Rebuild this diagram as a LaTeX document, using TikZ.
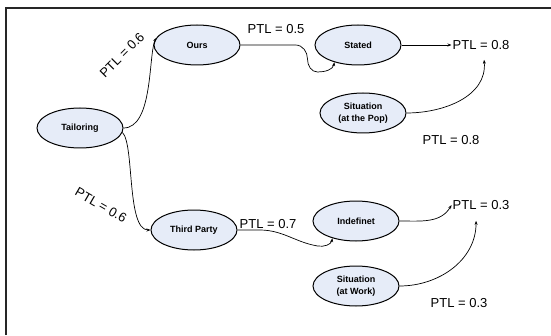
\documentclass[tikz,border=0pt]{standalone}
\usepackage{fontspec}
\setmainfont{Liberation Sans}
\usetikzlibrary{shapes.geometric,arrows.meta,positioning}
\definecolor{ovalfill}{RGB}{230,236,248}
\tikzset{
  oval/.style={
    ellipse, draw=black, line width=1pt, fill=ovalfill,
    minimum width=86pt, minimum height=40pt, inner sep=0pt,
    align=center, font=\fontsize{9}{11.5}\selectfont\bfseries
  },
  ptl/.style={inner sep=1pt, font=\fontsize{13}{15}\selectfont},
  arrow/.style={-{Stealth[length=4pt,width=3pt]}, line width=0.7pt, black},
  frame/.style={line width=1.6pt, black!85}
}

\begin{document}
\begin{tikzpicture}[x=1pt, y=1pt, node distance=20pt]
  \useasboundingbox (0,0) rectangle (551,335);
  \draw[frame] (6,0) -- (6,327) -- (551,327);

  \node[oval] (tail) at (80,207) {Tailoring};
  \node[oval] (ours) at (197,290) {Ours};
  \node[oval, right=74pt of ours] (stated) {Stated};
  \node[oval, below=27pt of stated, xshift=5pt]
    (sitpop) {Situation\\(at the Pop)};
  \node[oval] (third) at (194,105) {Third Party};
  \node[oval, right=75pt of third, yshift=9pt] (indef) {Indefinet};
  \node[oval, below=24pt of indef]
    (sitwork) {Situation\\(at Work)};

  \node[ptl, right=50pt of stated] (p08a) {PTL = 0.8};
  \node[ptl] (p08b) at (451,195) {PTL = 0.8};
  \node[ptl, right=52pt of indef, yshift=16pt] (p03a) {PTL = 0.3};
  \node[ptl] (p03b) at (459,32) {PTL = 0.3};
  \node[ptl] (p05) at (276,306) {PTL = 0.5};
  \node[ptl, anchor=base west] (p07)
    at ([xshift=1pt,yshift=2pt]third.east) {PTL = 0.7};
  \node[ptl, rotate=45] (p06a) at (122,280) {PTL = 0.6};
  \node[ptl, rotate=-30] (p06b) at (101,130) {PTL = 0.6};

  \draw[arrow] (tail.east) .. controls +(30,0) and +(-8,-16) .. (ours.170);
  \draw[arrow] (tail.-6) .. controls +(12,-12) and +(-24,0) .. (third.west);
  \draw[arrow] (ours.east) -- ++(55,0) to[out=0,in=90] ++(12,-14)
    to[out=-90,in=180] ++(10,-13) to[out=0,in=-100] (stated.216);
  \draw[arrow] (third.east) -- ++(22,0) to[out=0,in=170] ++(58,-16)
    to[out=-10,in=-100] (indef.216);
  \draw[arrow] (stated) -- (p08a);
  \draw[arrow] (sitpop.east) to[out=0,in=-85] ([xshift=3pt,yshift=-9pt]p08a.south);
  \draw[arrow] (indef.east) to[out=0,in=-120] (p03a.west);
  \draw[arrow] (sitwork.east) to[out=0,in=-90] ([xshift=-5pt,yshift=-10pt]p03a.south);
\end{tikzpicture}
\end{document}
